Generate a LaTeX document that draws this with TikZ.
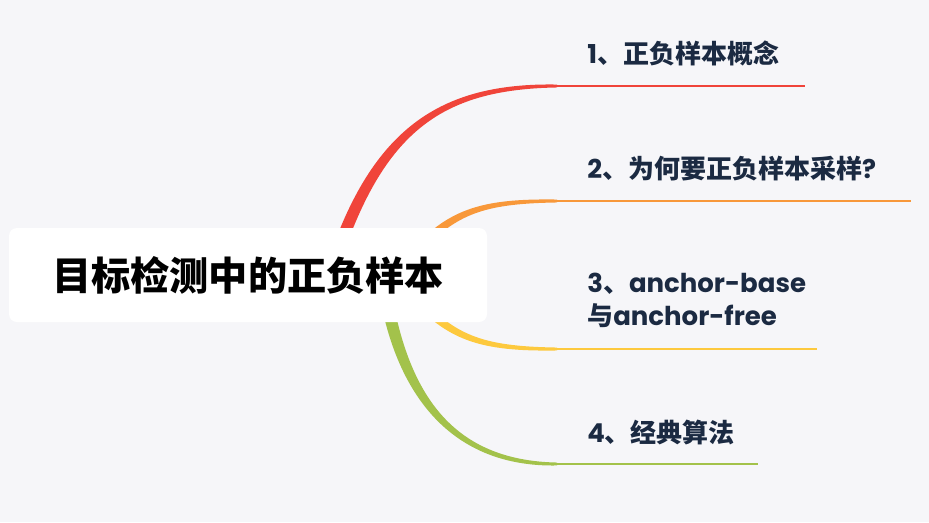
\documentclass[tikz,border=0pt]{standalone}
\usepackage{fontspec}
\setmainfont{Poppins}
\newfontfamily\cjkfont{Noto Sans CJK SC}
\usetikzlibrary{calc}
\definecolor{bgcol}{HTML}{F6F6F9}
\definecolor{inkcol}{HTML}{1B2A42}
\definecolor{redb}{HTML}{F0443A}
\definecolor{orangeb}{HTML}{F8983A}
\definecolor{yellowb}{HTML}{FDC93E}
\definecolor{greenb}{HTML}{A3C24B}
\newcommand\zh[1]{{\cjkfont #1}}
\pgfdeclarelayer{bglayer}
\pgfdeclarelayer{branchlayer}
\pgfsetlayers{bglayer,branchlayer,main}
% tapered branch: colour, start, control 1, control 2, end, half width at start, half width near control 2
\newcommand\mmbranch[7]{%
  \path ($(#2)!#6!90:(#3)$) coordinate (sa) ($(#2)!#6!-90:(#3)$) coordinate (sb)
        ($(#4)!#7!90:(#5)$) coordinate (ca) ($(#4)!#7!-90:(#5)$) coordinate (cb)
        ($(#5)!1.1pt!-90:(#4)$) coordinate (ea) ($(#5)!1.1pt!90:(#4)$) coordinate (eb);
  \fill[#1] (sa) .. controls ($(#3)+(sa)-(#2)$) and (ca) .. (ea)
    -- (eb) .. controls (cb) and ($(#3)+(sb)-(#2)$) .. (sb) -- cycle;
}
\begin{document}
\begin{tikzpicture}[x=0.75pt,y=-0.75pt,
    title/.style={rectangle, rounded corners=6pt, fill=white, minimum width=358.5pt,
      minimum height=70.5pt, inner sep=0pt, font=\cjkfont\bfseries\fontsize{29.4}{35}\selectfont},
    label/.style={anchor=base west, inner sep=0pt, align=left, text=inkcol,
      font=\bfseries\fontsize{19.5}{24.75}\selectfont},
    leaf/.style={line width=2.2pt}
  ]
  \begin{pgfonlayer}{bglayer}
    \fill[bgcol] (0,0) rectangle (929,522);
  \end{pgfonlayer}
  \useasboundingbox (0,0) rectangle (929,522);

  \node[title] (root) at (248,275) {目标检测中的正负样本};

  % end points of the branches
  \coordinate (b1) at (557,86);
  \coordinate (b2) at (557,201);
  \coordinate (b3) at (557,349);
  \coordinate (b4) at (557,464);
  \coordinate (e1) at (805,86);
  \coordinate (e2) at (911,201);
  \coordinate (e3) at (817,349);
  \coordinate (e4) at (758,464);

  \begin{pgfonlayer}{branchlayer}
    \mmbranch{redb}{$(root.center)+(82,0)$}{375,130}{440,86}{b1}{4.6pt}{2.6pt}
    \mmbranch{orangeb}{$(root.center)+(162,-17)$}{450,212}{480,201}{b2}{3.2pt}{2pt}
    \mmbranch{yellowb}{$(root.center)+(162,17)$}{450,338}{480,349}{b3}{3.2pt}{2pt}
    \mmbranch{greenb}{$(root.center)+(136,10)$}{401,395}{452,464}{b4}{4.6pt}{2.6pt}
  \end{pgfonlayer}

  \draw[leaf, redb] (b1) -- (e1);
  \draw[leaf, orangeb] (b2) -- (e2);
  \draw[leaf, yellowb] (b3) -- (e3);
  \draw[leaf, greenb] (b4) -- (e4);

  \node[label] (l1) at (587,63) {1\zh{、正负样本概念}};
  \node[label] (l2) at (587,178) {2\zh{、为何要正负样本采样}?};
  \node[label] (l3) at (587,325) {3\zh{、}anchor-base\\\zh{与}anchor-free};
  \node[label] (l4) at (587,442) {4\zh{、经典算法}};
\end{tikzpicture}
\end{document}
